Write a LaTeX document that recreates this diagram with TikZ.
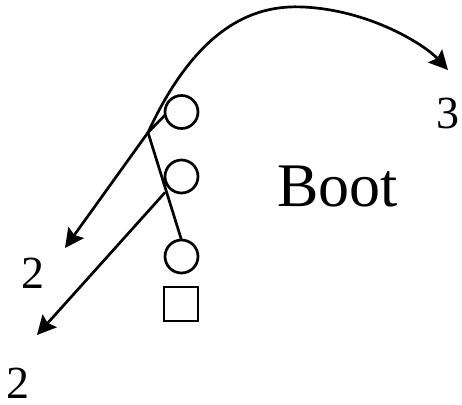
\documentclass[tikz,border=0pt]{standalone}
\usepackage{fontspec}
\setmainfont{Liberation Serif}
\usetikzlibrary{arrows.meta}
\begin{document}
\begin{tikzpicture}[x=1pt,y=-1pt,
  every node/.style={inner sep=0pt,outer sep=0pt},
  ball/.style={circle,draw,line width=2.7pt,minimum size=33pt},
  leaf/.style={rectangle,draw,line width=2.7pt,minimum size=34pt},
  edge/.style={line width=2.7pt},
  jump/.style={line width=2.7pt,-{Stealth[length=19pt,width=19pt,inset=3pt]}},
  num/.style={anchor=base west,font=\fontsize{46}{50}\selectfont},
  word/.style={anchor=base west,font=\fontsize{62}{66}\selectfont}]
\useasboundingbox (0,0) rectangle (462,404);

% tree nodes
\node[ball] (c1) at (181.5,112) {};
\node[ball] (c2) at (181.5,176.5) {};
\node[ball] (c3) at (181.5,256.5) {};
\node[leaf] (sq) at (181,304) {};

% labels
\node[num] (t3) at (436,128) {3};
\node[num] (t2a) at (21,288) {2};
\node[num] (t2b) at (6,398) {2};
\node[word] (boot) at (277,206) {Boot};

% connectors
\coordinate (j) at (148,132.5);
\coordinate (s2) at (165,192.5);
\coordinate (e1) at (65,248);
\coordinate (e2) at (37,335);
\coordinate (e3) at (448,70);

\draw[edge] (c1.190) -- (j) -- (c3.north);
\draw[jump] (j) -- (e1);
\draw[jump] (s2) -- (e2);
\draw[jump] (j) .. controls (200,20) and (260,5) .. (303,7)
  .. controls (370,10) and (425,45) .. (e3);
\end{tikzpicture}
\end{document}
